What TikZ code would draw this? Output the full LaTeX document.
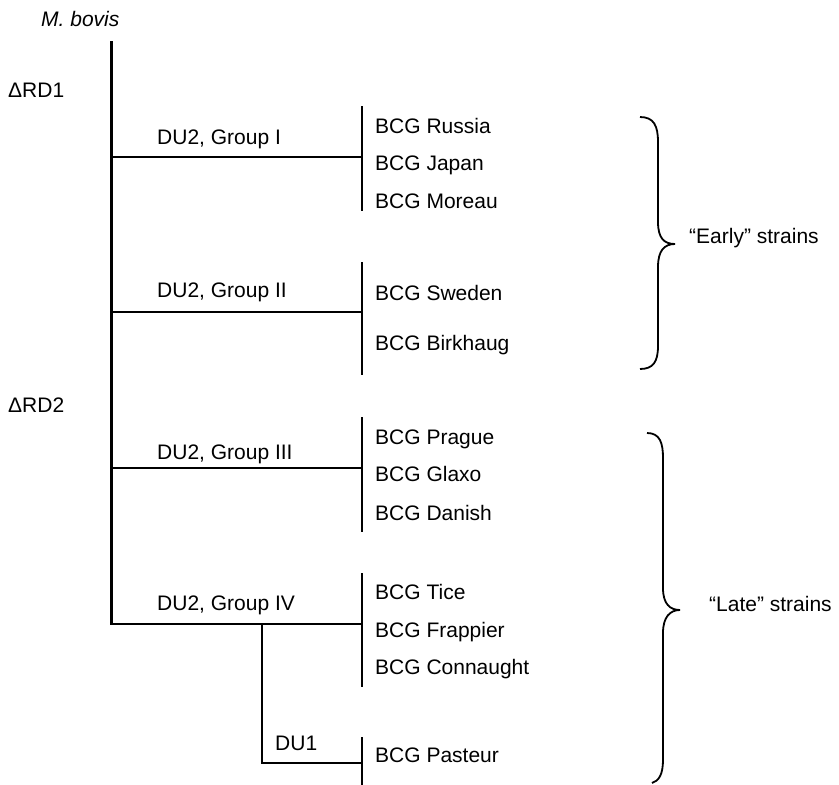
\documentclass[tikz,border=0pt]{standalone}
\usepackage{fontspec}
\setmainfont{Liberation Sans}
\begin{document}
\begin{tikzpicture}[x=1pt,y=-1pt,
  lbl/.style={anchor=west,inner sep=0pt,text height=15pt,text depth=0pt,font=\fontsize{21}{24}\selectfont},
  tree/.style={line width=2.1pt},
  brace/.style={line width=1.8pt}]
\useasboundingbox (0,0) rectangle (839,785);
% labels
\node[lbl,font=\fontsize{21}{24}\selectfont\itshape] (mb) at (41,19) {M. bovis};
\node[lbl] (rd1) at (8,90) {ΔRD1};
\node[lbl] (rd2) at (8,405) {ΔRD2};
\node[lbl] (g1) at (157,137) {DU2, Group I};
\node[lbl] (g2) at (157,290) {DU2, Group II};
\node[lbl] (g3) at (157,452) {DU2, Group III};
\node[lbl] (g4) at (157,603) {DU2, Group IV};
\node[lbl] (du1) at (275,743) {DU1};
\node[lbl] (russia) at (375,126) {BCG Russia};
\node[lbl] (japan) at (375,163) {BCG Japan};
\node[lbl] (moreau) at (375,201) {BCG Moreau};
\node[lbl] (sweden) at (375,293) {BCG Sweden};
\node[lbl] (birk) at (375,343) {BCG Birkhaug};
\node[lbl] (prague) at (375,437) {BCG Prague};
\node[lbl] (glaxo) at (375,474) {BCG Glaxo};
\node[lbl] (danish) at (375,513) {BCG Danish};
\node[lbl] (tice) at (375,592) {BCG Tice};
\node[lbl] (frap) at (375,630) {BCG Frappier};
\node[lbl] (conn) at (375,667) {BCG Connaught};
\node[lbl] (past) at (375,755) {BCG Pasteur};
\node[lbl] (early) at (689,236) {“Early” strains};
\node[lbl] (late) at (709,604) {“Late” strains};
% tree coordinates
\coordinate (top) at (111.5,41);
\coordinate (c1) at (111.5,157);
\coordinate (c2) at (111.5,312);
\coordinate (c3) at (111.5,468);
\coordinate (c4) at (111.5,624);
\coordinate (b1) at (362,157);
\coordinate (b2) at (362,312);
\coordinate (b3) at (362,468);
\coordinate (b4) at (362,624);
\coordinate (d1) at (262,624);
\coordinate (d2) at (262,763);
\coordinate (b5) at (362,763);
\coordinate (b1t) at (362,106); \coordinate (b1b) at (362,211);
\coordinate (b2t) at (362,262); \coordinate (b2b) at (362,375);
\coordinate (b3t) at (362,417); \coordinate (b3b) at (362,532);
\coordinate (b4t) at (362,573); \coordinate (b4b) at (362,687);
\coordinate (b5t) at (362,737); \coordinate (b5b) at (362,785);
\draw[tree] (top) -- (c4) -- (b4);
\draw[tree] (c1) -- (b1);
\draw[tree] (c2) -- (b2);
\draw[tree] (c3) -- (b3);
\draw[tree] (d1) -- (d2) -- (b5);
\draw[tree] (b1t) -- (b1b);
\draw[tree] (b2t) -- (b2b);
\draw[tree] (b3t) -- (b3b);
\draw[tree] (b4t) -- (b4b);
\draw[tree] (b5t) -- (b5b);
% braces
\coordinate (e1) at (640,117); \coordinate (et) at (675,244); \coordinate (e2) at (640,369);
\draw[brace] (e1) .. controls (654,117) and (658,126) .. (658,142) -- (658,222)
  .. controls (658,238) and (664,244) .. (et)
  .. controls (664,244) and (658,251) .. (658,267) -- (658,346)
  .. controls (658,362) and (653,369) .. (e2);
\coordinate (l1) at (647,433); \coordinate (lt) at (680,610); \coordinate (l2) at (652,783);
\draw[brace] (l1) .. controls (660,433) and (663,443) .. (663,458) -- (663,588)
  .. controls (663,604) and (670,610) .. (lt)
  .. controls (670,610) and (663,617) .. (663,633) -- (663,760)
  .. controls (663,774) and (659,781) .. (l2);
\end{tikzpicture}
\end{document}
